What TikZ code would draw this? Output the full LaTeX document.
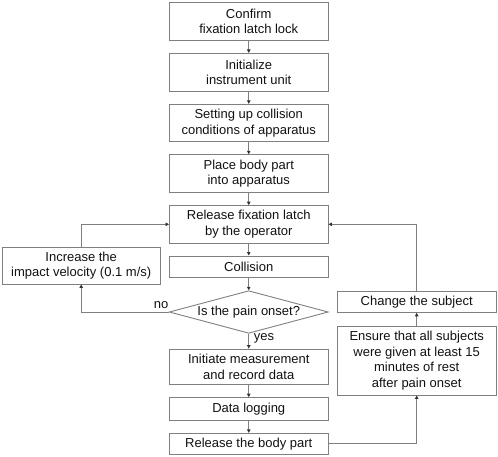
\documentclass[tikz,border=0pt]{standalone}
\usepackage{fontspec}
\setmainfont{Liberation Sans}
\usetikzlibrary{arrows.meta,shapes.geometric}
\definecolor{linegray}{HTML}{7F7F7F}
\definecolor{txt}{HTML}{111111}
\definecolor{tipcol}{HTML}{333333}
\begin{document}
\begin{tikzpicture}[x=1pt,y=-1pt,
  every node/.style={font=\fontsize{13}{15.5}\selectfont, text=txt},
  box/.style={draw=linegray, line width=0.9pt, rectangle, inner sep=0pt, align=center, minimum width=158.5pt},
  sidebox/.style={box, minimum width=158.5pt},
  decision/.style={draw=linegray, line width=0.9pt, diamond, aspect=3.73, inner sep=0pt, minimum width=159pt, minimum height=42.6pt},
  conn/.style={draw=linegray, line width=0.8pt, -{Triangle[length=3.5pt,width=3.5pt,color=tipcol]}},
  lbl/.style={inner sep=0pt}
]
\useasboundingbox (0,0) rectangle (498,456);
\node[box, minimum height=37.6pt] (b1) at (248.75,21.5) {Confirm\\fixation latch lock};
\node[box, minimum height=37.6pt] (b2) at (248.75,72.2) {Initialize\\instrument unit};
\node[box, minimum height=37.4pt] (b3) at (248.75,123) {Setting up collision\\conditions of apparatus};
\node[box, minimum height=37.6pt] (b4) at (248.75,173.5) {Place body part\\into apparatus};
\node[box, minimum height=37.3pt] (b5) at (248.75,224.3) {Release fixation latch\\by the operator};
\node[box, minimum height=21.7pt] (b6) at (248.75,266.8) {Collision};
\node[decision] (d) at (248.75,312) {Is the pain onset?};
\node[box, minimum height=35.3pt] (b7) at (248.75,366.7) {Initiate measurement\\and record data};
\node[box, minimum height=22.3pt] (b8) at (248.75,408.8) {Data logging};
\node[box, minimum height=21pt] (b9) at (248.75,443.8) {Release the body part};
\node[sidebox, minimum width=157.7pt, minimum height=36.3pt] (inc) at (81.2,265.8) {Increase the\\impact velocity (0.1 m/s)};
\node[sidebox, minimum width=158.7pt, minimum height=21.3pt] (chg) at (416.7,301.7) {Change the subject};
\node[sidebox, minimum width=158.7pt, minimum height=69pt] (ens) at (416.7,360.5) {Ensure that all subjects\\were given at least 15\\minutes of rest\\after pain onset};
\draw[conn] (b1) -- (b2);
\draw[conn] (b2) -- (b3);
\draw[conn] (b3) -- (b4);
\draw[conn] (b4) -- (b5);
\draw[conn] (b5) -- (b6);
\draw[conn] (b6) -- (d);
\draw[conn] (d) -- (b7);
\draw[conn] (b7) -- (b8);
\draw[conn] (b8) -- (b9);
\draw[conn] (d.west) -| (inc.south);
\draw[conn] (inc.north) |- (b5.west);
\draw[conn] (b9.east) -| (ens.south);
\draw[conn] (ens) -- (chg);
\draw[conn] (chg.north) |- (b5.east);
\node[lbl] (no) at (161,305) {no};
\node[lbl] (yes) at (264,338) {yes};
\end{tikzpicture}
\end{document}
